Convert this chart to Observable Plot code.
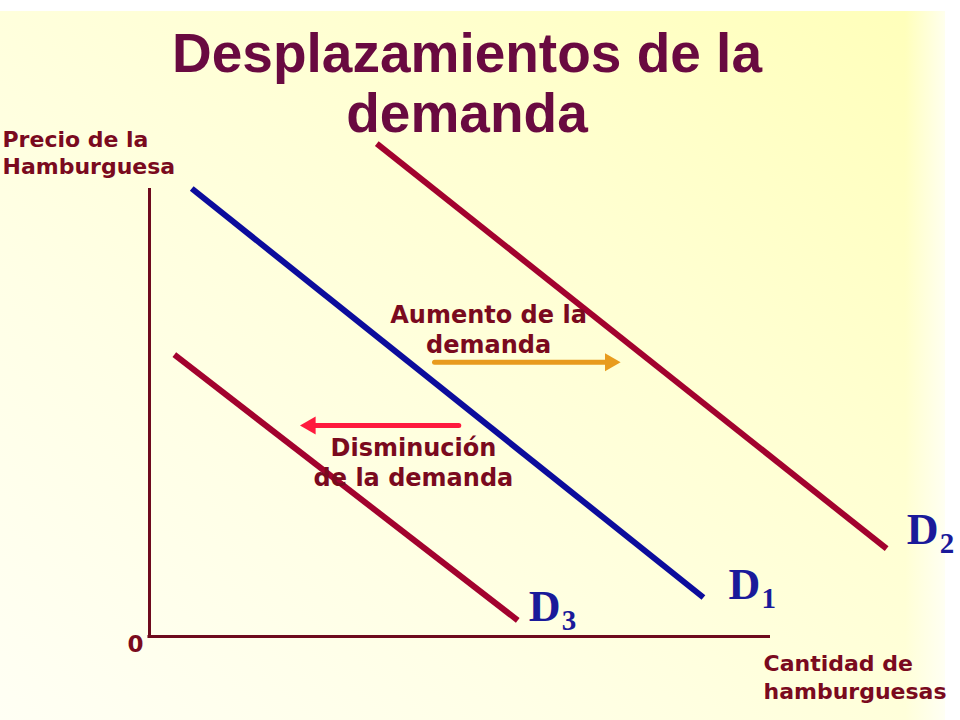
<!DOCTYPE html>
<html>
<head>
<meta charset="utf-8">
<script src="https://cdn.jsdelivr.net/npm/d3@7"></script>
<script src="https://cdn.jsdelivr.net/npm/@observablehq/plot@0.6"></script>
<style>
  html, body { margin: 0; padding: 0; width: 960px; height: 720px; overflow: hidden; background: #ffffff; }
  #bg { position: absolute; left: 0; top: 11px; width: 945px; height: 709px;
        background: linear-gradient(220deg, #FFFFB9 0%, #FFFFD2 35%, #FFFFE6 70%, #FFFFF4 100%); }
  #bgfade { position: absolute; left: 905px; top: 11px; width: 40px; height: 709px;
        background: linear-gradient(90deg, rgba(255,255,255,0) 0%, rgba(255,255,250,0.8) 100%); }
  #title { position: absolute; left: 0; top: 23px; width: 934px; text-align: center;
           font-family: "Liberation Sans", Arial, sans-serif; font-weight: bold; font-size: 55px;
           line-height: 60px; color: #690A40; }
  #chart { position: absolute; left: 0; top: 0; }
</style>
</head>
<body>
<div id="bg"></div>
<div id="bgfade"></div>
<div id="title">Desplazamientos de la<br>demanda</div>
<div id="chart"></div>
<script>
// ---- data (chart units: quantity 0..100 on x, price 0..100 on y) ----
const curveNames = ["D2", "D1", "D3"];
const curveSub = ["2", "1", "3"];
const curveQ1 = [36.6, 6.8, 4.0];
const curveP1 = [110.0, 100.0, 62.9];
const curveQ2 = [118.7, 89.2, 59.3];
const curveP2 = [19.6, 8.7, 3.6];

const arrowNames = ["Aumento", "Disminución"];
const arrowQ1 = [45.9, 49.8];
const arrowQ2 = [75.8, 24.3];
const arrowP = [61.2, 47.1];

const noteTexts = ["Aumento de la\ndemanda", "Disminución\nde la demanda"];
const noteQ = [54.6, 42.5];
const noteP = [63.2, 33.5];

const xLabel = "Cantidad de\nhamburguesas";
const yLabel = "Precio de la\nHamburguesa";
const originLabel = "0";

// ---- styles ----
const curveColors = {D2: "#A2022E", D1: "#0C0C9C", D3: "#A2022E"};
const labelOffsets = {D2: [20, -5], D1: [25, 1], D3: [11, 1]};
const arrowColors = {"Aumento": "#E89B1E", "Disminución": "#FF1A3E"};
const maroon = "#7A0A1E";
const labelFont = "DejaVu Sans, Verdana, sans-serif";

const curves = curveNames.map((name, i) => ({name, sub: curveSub[i], q1: curveQ1[i], p1: curveP1[i], q2: curveQ2[i], p2: curveP2[i]}));
const arrows = arrowNames.map((name, i) => ({name, q1: arrowQ1[i], q2: arrowQ2[i], p: arrowP[i], dir: arrowQ2[i] > arrowQ1[i] ? 1 : -1}));
const notes = noteTexts.map((text, i) => ({text, q: noteQ[i], p: noteP[i]}));

const marks = [
  // axes
  Plot.ruleX([0], {y1: 0, y2: 100, stroke: "#6E0A1E", strokeWidth: 3}),
  Plot.ruleY([0], {x1: -0.25, x2: 100, stroke: "#6E0A1E", strokeWidth: 3}),
  // demand curves
  Plot.link(curves, {x1: "q1", y1: "p1", x2: "q2", y2: "p2", stroke: d => curveColors[d.name], strokeWidth: 6}),
  // arrow shafts
  Plot.arrow(arrows, {x1: "q1", y1: "p", x2: "q2", y2: "p", stroke: d => arrowColors[d.name], strokeWidth: 5, headLength: 0, insetEnd: 12}),
  // arrow heads
  Plot.dot(arrows.filter(d => d.dir > 0), {x: "q2", y: "p", symbol: "triangle", r: 6.7, rotate: 90, fill: d => arrowColors[d.name], stroke: "none", dx: -10}),
  Plot.dot(arrows.filter(d => d.dir < 0), {x: "q2", y: "p", symbol: "triangle", r: 6.7, rotate: -90, fill: d => arrowColors[d.name], stroke: "none", dx: 10}),
  // notes
  Plot.text(notes, {x: "q", y: "p", text: "text", textAnchor: "middle", lineAnchor: "bottom", lineHeight: 1.25,
    fontFamily: labelFont, fontWeight: "bold", fontSize: 24, fill: maroon}),
  // axis labels
  Plot.text([yLabel], {x: 0, y: 100, text: d => d, dx: -147, dy: -15, textAnchor: "start", lineAnchor: "bottom", lineHeight: 1.2,
    fontFamily: labelFont, fontWeight: "bold", fontSize: 22, fill: maroon}),
  Plot.text([xLabel], {x: 100, y: 0, text: d => d, dx: -7, dy: 62, textAnchor: "start", lineAnchor: "bottom", lineHeight: 1.27,
    fontFamily: labelFont, fontWeight: "bold", fontSize: 22, fill: maroon}),
  Plot.text([originLabel], {x: 0, y: 0, text: d => d, dx: -14, dy: 15, textAnchor: "middle", lineAnchor: "bottom",
    fontFamily: labelFont, fontWeight: "bold", fontSize: 23, fill: maroon})
];

// curve labels D with subscripts
for (const c of curves) {
  const [dx, dy] = labelOffsets[c.name];
  marks.push(Plot.text([c], {x: "q2", y: "p2", text: () => "D", dx, dy, textAnchor: "start", lineAnchor: "bottom",
    fontFamily: "Liberation Serif, Times New Roman, serif", fontWeight: "bold", fontSize: 44, fill: "#1A1A9A"}));
  marks.push(Plot.text([c], {x: "q2", y: "p2", text: "sub", dx: dx + 33, dy: dy + 9, textAnchor: "start", lineAnchor: "bottom",
    fontFamily: "Liberation Serif, Times New Roman, serif", fontWeight: "bold", fontSize: 29, fill: "#1A1A9A"}));
}

const chart = Plot.plot({
  width: 960,
  height: 720,
  marginLeft: 149,
  marginRight: 190,
  marginTop: 188,
  marginBottom: 84,
  x: {domain: [0, 100], axis: null},
  y: {domain: [0, 100], axis: null},
  style: {background: "transparent", overflow: "visible"},
  marks
});
document.getElementById("chart").appendChild(chart);
</script>
</body>
</html>
